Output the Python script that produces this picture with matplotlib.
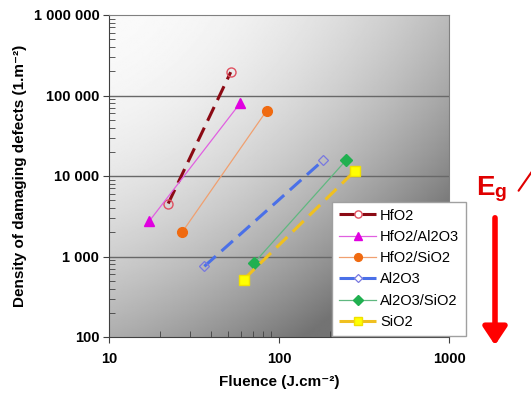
import numpy as np
import matplotlib.pyplot as plt
from matplotlib.ticker import LogLocator, FuncFormatter, NullFormatter
from matplotlib.patches import FancyArrowPatch

plt.rcParams['font.family'] = ['Liberation Sans', 'DejaVu Sans']

# ------------------------------------------------------------
# Data (fluence J/cm2, defect density 1/m2)
# ------------------------------------------------------------
labels = ["HfO2", "HfO2/Al2O3", "HfO2/SiO2", "Al2O3", "Al2O3/SiO2", "SiO2"]
hfo2_x, hfo2_y = [22.3, 52.0], [4550, 195000]
hfo2_al_x, hfo2_al_y = [17.3, 59.0], [2770, 80000]
hfo2_si_x, hfo2_si_y = [27.0, 84.7], [2020, 65000]
al2o3_x, al2o3_y = [36.4, 182.0], [755, 15700]
al_si_x, al_si_y = [71.3, 248.0], [830, 15700]
sio2_x, sio2_y = [61.9, 280.0], [516, 11600]

fig = plt.figure(figsize=(5.31, 3.93), dpi=100)
ax = fig.add_axes([109/531, 1-337/393, 340/531, 322/393])

# gradient background (light top-left -> dark bottom-right)
u, v = np.meshgrid(np.linspace(0, 1, 300), np.linspace(0, 1, 300))
shade = np.clip(0.98 - 0.25*u**2 - 0.30*v**2 - 0.26*u*v, 0.45, 1)
ax.imshow(shade, cmap='gray', vmin=0, vmax=1, extent=(0, 1, 0, 1),
          origin='upper', transform=ax.transAxes, aspect='auto', zorder=0)

ax.set_xscale('log')
ax.set_yscale('log')
ax.set_xlim(10, 1000)
ax.set_ylim(100, 1e6)

for yy in [1e3, 1e4, 1e5]:
    ax.axhline(yy, color='#686868', lw=1.0, zorder=1)

# series
dash = (0, (5, 2.5))
ax.plot(hfo2_x, hfo2_y, color='#8b0a14', lw=2.2, ls=dash,
        marker='o', ms=6.5, mfc='none', mec='#e05060', mew=1.0,
        label=labels[0], zorder=3)
ax.plot(hfo2_al_x, hfo2_al_y, color='#e060e0', lw=0.9,
        marker='^', ms=7, mfc='#e000e0', mec='#e000e0',
        label=labels[1], zorder=3)
ax.plot(hfo2_si_x, hfo2_si_y, color='#f0a070', lw=0.9,
        marker='o', ms=7, mfc='#f06a10', mec='#f06a10',
        label=labels[2], zorder=3)
ax.plot(al2o3_x, al2o3_y, color='#4a70e8', lw=2.2, ls=dash,
        marker='D', ms=5.5, mfc='none', mec='#7878e0', mew=0.9,
        label=labels[3], zorder=3)
ax.plot(al_si_x, al_si_y, color='#60b880', lw=0.9,
        marker='D', ms=6, mfc='#20b050', mec='#20b050',
        label=labels[4], zorder=3)
ax.plot(sio2_x, sio2_y, color='#f0c020', lw=2.2, ls=dash,
        marker='s', ms=7, mfc='#ffff00', mec='#f0e000',
        label=labels[5], zorder=3)

# axes styling
ax.spines['left'].set_color('#404040')
ax.spines['bottom'].set_color('#404040')
ax.spines['top'].set_color('#808080')
ax.spines['right'].set_color('#808080')

ax.yaxis.set_major_locator(LogLocator(base=10, numticks=10))
ax.yaxis.set_minor_locator(LogLocator(base=10, subs=np.arange(2, 10), numticks=20))
ax.yaxis.set_major_formatter(FuncFormatter(lambda val, pos: f"{int(round(val)):,}".replace(",", " ")))
ax.yaxis.set_minor_formatter(NullFormatter())
ax.xaxis.set_major_formatter(FuncFormatter(lambda val, pos: f"{int(round(val))}"))
ax.xaxis.set_minor_formatter(NullFormatter())

ax.tick_params(axis='both', which='major', direction='out', length=4,
               color='#404040', labelsize=10.5)
ax.tick_params(axis='both', which='minor', direction='in', length=4,
               color='#404040')
for t in ax.get_yticklabels() + ax.get_xticklabels():
    t.set_fontweight('bold')
ax.tick_params(axis='x', pad=7)
ax.tick_params(axis='y', pad=3)

ax.set_xlabel("Fluence (J.cm⁻²)", fontsize=11, fontweight='bold', labelpad=6)
ax.set_ylabel("Density of damaging defects (1.m⁻²)", fontsize=11,
              fontweight='bold', labelpad=5)

leg = ax.legend(loc='upper left', bbox_to_anchor=(332/531, 1-202/393),
                bbox_transform=fig.transFigure, borderaxespad=0,
                fontsize=10.5, frameon=True, fancybox=False, framealpha=1,
                edgecolor='#a0a0a0', handlelength=2.6, labelspacing=0.5,
                borderpad=0.45, handletextpad=0.25, markerscale=0.8)
leg.get_frame().set_linewidth(1.0)
leg.set_zorder(5)

# Eg annotation
fig.text(476/531, 1-195/393, "E", color='#e00000', fontsize=20,
         fontweight='bold', ha='left', va='baseline')
fig.text(494/531, 1-197/393, "g", color='#e00000', fontsize=14,
         fontweight='bold', ha='left', va='baseline')
fig.patches.append(FancyArrowPatch((495/531, 1-215/393), (495/531, 1-348/393),
                                   transform=fig.transFigure, color='#ff0000',
                                   arrowstyle='-|>,head_width=4,head_length=6',
                                   lw=4, mutation_scale=1.8))
fig.patches.append(FancyArrowPatch((517/531, 1-193/393), (540/531, 1-160/393),
                                   transform=fig.transFigure, color='#e00000',
                                   arrowstyle='-', lw=1.5))

fig.savefig("out.png", dpi=100)
